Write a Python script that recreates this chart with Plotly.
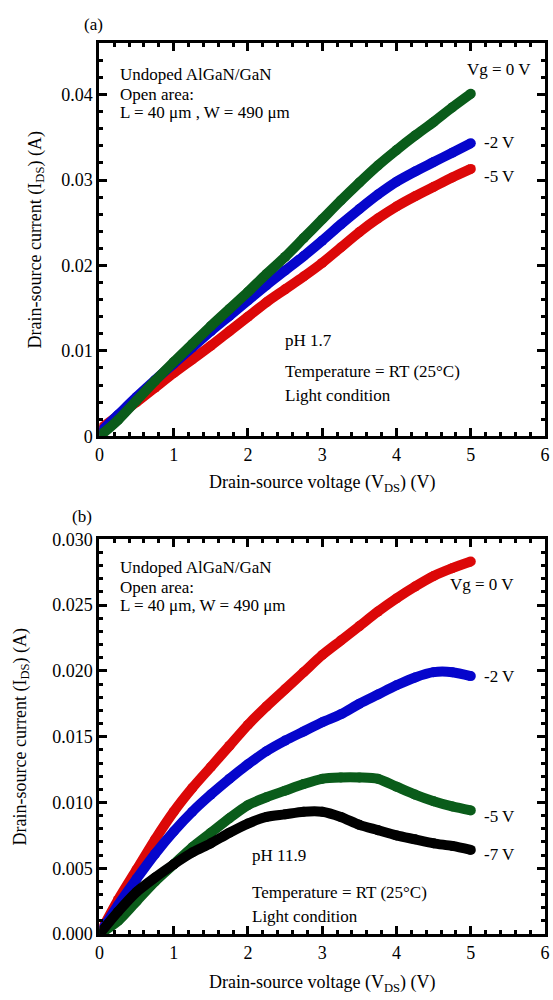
import plotly.graph_objects as go

# ---------------- data ----------------
vds = [0.00, 0.25, 0.50, 0.75, 1.00, 1.25, 1.50, 1.75, 2.00, 2.25, 2.50,
       2.75, 3.00, 3.25, 3.50, 3.75, 4.00, 4.25, 4.50, 4.75, 5.00]

# panel (a) pH 1.7
a_vg0 = [0.0000, 0.0019, 0.0042, 0.0065, 0.0087, 0.0108, 0.0129, 0.0149, 0.0169, 0.0190, 0.0210,
         0.0232, 0.0254, 0.0276, 0.0297, 0.0317, 0.0335, 0.0352, 0.0368, 0.0385, 0.0401]
a_vg2 = [0.0004, 0.0025, 0.0046, 0.0066, 0.0085, 0.0104, 0.0123, 0.0141, 0.0159, 0.0177, 0.0194,
         0.0211, 0.0229, 0.0248, 0.0266, 0.0283, 0.0298, 0.0310, 0.0321, 0.0332, 0.0343]
a_vg5 = [0.0008, 0.0024, 0.0040, 0.0057, 0.0074, 0.0090, 0.0106, 0.0123, 0.0140, 0.0157, 0.0172,
         0.0187, 0.0203, 0.0221, 0.0239, 0.0255, 0.0269, 0.0281, 0.0292, 0.0303, 0.0313]

# panel (b) pH 11.9
b_vg0 = [0.0000, 0.0026, 0.0049, 0.0072, 0.0093, 0.0111, 0.0127, 0.0143, 0.0159, 0.0173, 0.0186,
         0.0199, 0.0212, 0.0223, 0.0234, 0.0245, 0.0255, 0.0264, 0.0272, 0.0278, 0.0283]
b_vg2 = [0.0000, 0.0022, 0.0042, 0.0061, 0.0078, 0.0093, 0.0106, 0.0118, 0.0129, 0.0139, 0.0147,
         0.0154, 0.0161, 0.0167, 0.0175, 0.0182, 0.0189, 0.0195, 0.0199, 0.0199, 0.0196]
b_vg5 = [0.0000, 0.0010, 0.0025, 0.0040, 0.0053, 0.0066, 0.0077, 0.0088, 0.0098, 0.0104, 0.0109,
         0.0114, 0.0118, 0.0119, 0.0119, 0.0118, 0.0112, 0.0106, 0.0101, 0.0097, 0.0094]
b_vg7 = [0.0000, 0.0017, 0.0032, 0.0043, 0.0053, 0.0062, 0.0069, 0.0077, 0.0084, 0.0089, 0.0091,
         0.0093, 0.0093, 0.0089, 0.0083, 0.0079, 0.0075, 0.0072, 0.0069, 0.0067, 0.0064]

RED = "#dc0808"
BLUE = "#0606cc"
GREEN = "#0a5c1a"
BLACK = "#000000"
FONT = "Liberation Serif"

fig = go.Figure()

def add(x, y, color, ax):
    fig.add_trace(go.Scatter(
        x=x, y=y, mode="lines+markers", xaxis="x" if ax == 1 else "x2",
        yaxis="y" if ax == 1 else "y2",
        line=dict(color=color, width=10, shape="spline", smoothing=0.8),
        marker=dict(color=color, size=10),
        showlegend=False, hoverinfo="skip"))

add(vds, a_vg5, RED, 1)
add(vds, a_vg2, BLUE, 1)
add(vds, a_vg0, GREEN, 1)

add(vds, b_vg0, RED, 2)
add(vds, b_vg2, BLUE, 2)
add(vds, b_vg5, GREEN, 2)
add(vds, b_vg7, BLACK, 2)

W, H = 553, 1000
xdom = [97 / W, 550 / W]
ydom_a = [1 - 435 / H, 1 - 34 / H]
ydom_b = [1 - 943 / H, 1 - 540 / H]

tickfont = dict(family=FONT, size=18, color="black")
titlefont = dict(family=FONT, size=18, color="black")

def xaxis_cfg(anchor, dom, standoff):
    return dict(domain=dom, anchor=anchor, range=[0, 6], dtick=1, tick0=0,
                showline=True, linewidth=3, linecolor="black", mirror="allticks",
                ticks="inside", ticklen=8, tickwidth=2.5, tickcolor="black",
                minor=dict(dtick=0.2, ticks="inside", ticklen=4, tickwidth=2.5, tickcolor="black"),
                showgrid=False, zeroline=False, tickfont=tickfont,
                ticklabeloverflow="allow",
                title=dict(text="Drain-source voltage (V<sub>DS</sub>) (V)", font=titlefont, standoff=standoff))

def yaxis_cfg(anchor, dom, rng, dt, mdt, fmt, standoff):
    return dict(domain=dom, anchor=anchor, range=rng, dtick=dt, tick0=0,
                showline=True, linewidth=3, linecolor="black", mirror="allticks",
                ticks="inside", ticklen=8, tickwidth=2.5, tickcolor="black",
                minor=dict(dtick=mdt, ticks="inside", ticklen=4, tickwidth=2.5, tickcolor="black"),
                showgrid=False, zeroline=False, tickfont=tickfont, tickformat=fmt,
                ticklabeloverflow="allow",
                title=dict(text="Drain-source current (I<sub>DS</sub>) (A)", font=titlefont, standoff=standoff))

fig.update_layout(
    width=W, height=H, margin=dict(l=0, r=0, t=0, b=0),
    paper_bgcolor="white", plot_bgcolor="white",
    font=dict(family=FONT, color="black"),
    xaxis=xaxis_cfg("y", xdom, 12),
    yaxis=yaxis_cfg("x", ydom_a, [0, 0.046], 0.01, 0.002, "", 16),
    xaxis2=xaxis_cfg("y2", xdom, 14),
    yaxis2=yaxis_cfg("x2", ydom_b, [0, 0.030], 0.005, 0.001, ".3f", 22),
)

def note(text, px, py, xanchor="left", size=17):
    fig.add_annotation(text=text, x=px / W, y=1 - py / H, xref="paper", yref="paper",
                       xanchor=xanchor, yanchor="middle", showarrow=False,
                       font=dict(family=FONT, size=size, color="black"))

# panel (a)
note("(a)", 91, 15, "center")
note("Undoped AlGaN/GaN", 116, 66)
note("Open area:", 116, 86)
note("L = 40 \u03bcm , W = 490 \u03bcm", 116, 105)
note("Vg = 0 V", 503, 61, "center")
note("-2 V", 486, 135)
note("-5 V", 486, 170)
note("pH 1.7", 284, 337)
note("Temperature = RT (25\u00b0C)", 284, 369)
note("Light condition", 284, 393)

# panel (b)
note("(b)", 79, 517, "center")
note("Undoped AlGaN/GaN", 116, 569)
note("Open area:", 116, 589)
note("L = 40 \u03bcm, W = 490 \u03bcm", 116, 608)
note("Vg = 0 V", 486, 586, "center")
note("-2 V", 486, 680)
note("-5 V", 486, 823)
note("-7 V", 486, 862)
note("pH 11.9", 250, 863)
note("Temperature = RT (25\u00b0C)", 250, 900)
note("Light condition", 250, 925)

fig.write_html("out.html")
